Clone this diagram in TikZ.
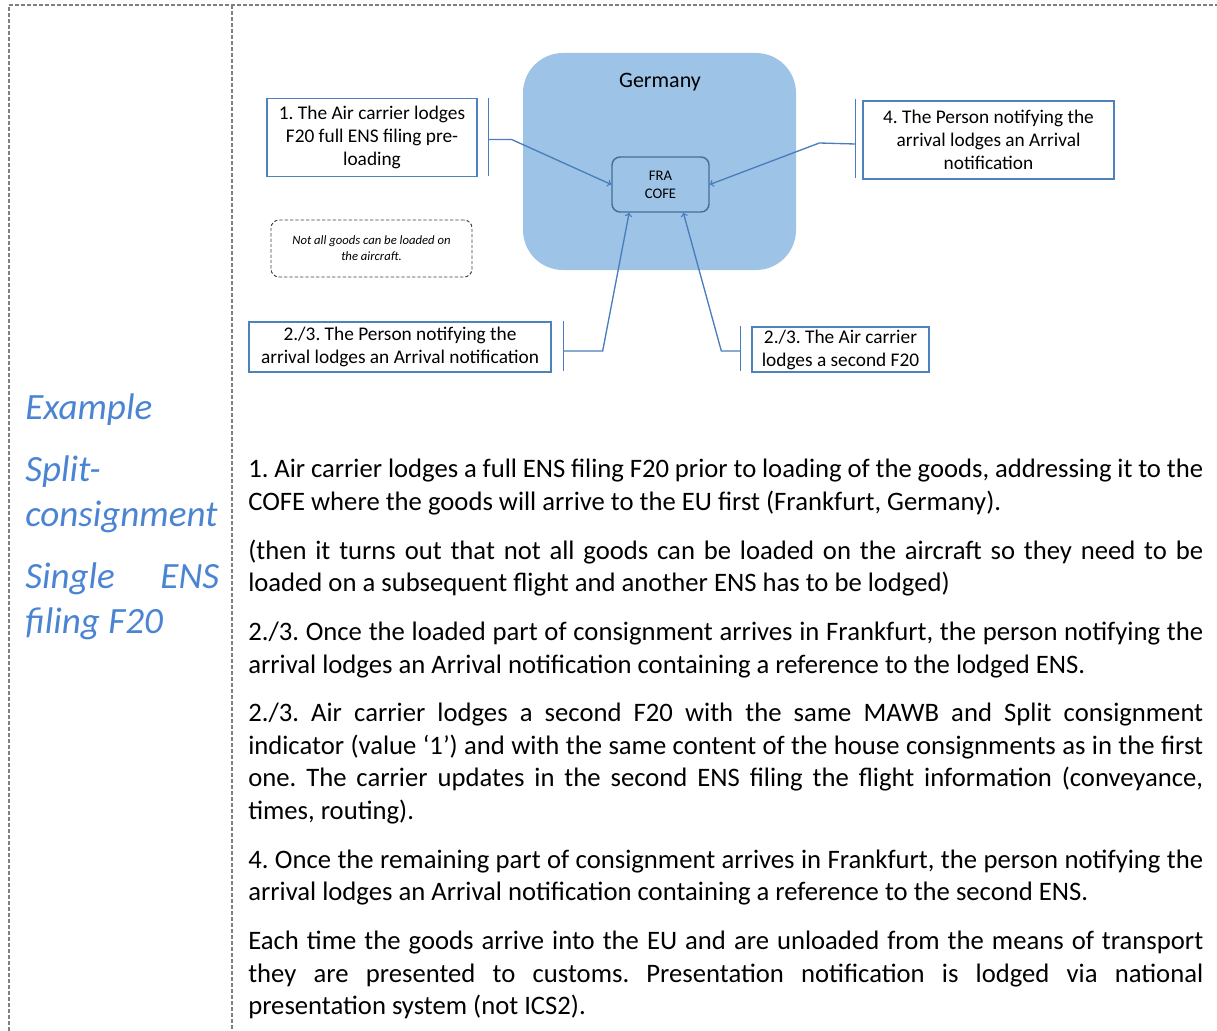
\documentclass[tikz,border=0pt]{standalone}
\usepackage{fontspec}
\setmainfont{Carlito}
\usepackage{tikz}
\usetikzlibrary{positioning}

\definecolor{framegray}{RGB}{128,128,128}
\definecolor{countryfill}{RGB}{157,195,230}
\definecolor{boxblue}{RGB}{79,129,189}
\definecolor{lineblue}{RGB}{74,126,187}
\definecolor{cofeblue}{RGB}{65,113,156}
\definecolor{sideblue}{RGB}{74,132,210}

\frenchspacing

\tikzset{
  frame/.style={draw=framegray, line width=0.8pt, dash pattern=on 3pt off 1.5pt},
  country/.style={fill=countryfill, rounded corners=30pt, inner sep=0pt,
    minimum width=204.75pt, minimum height=162.75pt},
  cofebox/.style={draw=cofeblue, fill=countryfill, line width=1.1pt, rounded corners=6pt,
    align=center, inner sep=0pt, minimum width=72.75pt, minimum height=41.25pt,
    font=\fontsize{11}{13.5}\selectfont},
  callbox/.style={draw=boxblue, line width=1pt, fill=white, align=center, inner sep=0pt,
    font=\fontsize{14.5}{17.25}\selectfont},
  notebox/.style={draw=black!75, line width=0.7pt, dash pattern=on 2.5pt off 1.5pt,
    rounded corners=6pt, align=center, inner sep=0pt,
    minimum width=150.75pt, minimum height=42.75pt,
    font=\fontsize{9.5}{12}\selectfont\itshape},
  bracket/.style={draw=lineblue, line width=1.2pt},
  leader/.style={draw=lineblue, line width=1pt, ->},
}

\begin{document}
\begin{tikzpicture}[x=0.75pt, y=-0.75pt]
\useasboundingbox (0,0) rectangle (1217,1031);

% table frame
\draw[frame] (9,1031) -- (9,5) -- (1217,5);
\draw[frame] (232,5) -- (232,1031);

% left column
\node (side) [anchor=north west, inner sep=0pt, text width=145.5pt, align=justify,
  text=sideblue, font=\fontsize{27.8}{33.75}\selectfont\itshape] at (25,393)
  {\setlength{\parskip}{12.75pt}\hyphenpenalty=10000
   Example\par
   Split-\newline consignment\par
   Single ENS\linebreak filing F20};

% diagram
\node (de) [country] at (659.5,161.5) {};
\node (delabel) [font=\fontsize{16.5}{19}\selectfont] at (660,82) {Germany};
\node (cofe) [cofebox] at (660.5,184.5) {FRA\\COFE};

\node (b1) [callbox, minimum width=157.5pt, minimum height=58.5pt] at (372,137.5)
  {1. The Air carrier lodges\\F20 full ENS filing pre-\\loading};
\node (b4) [callbox, minimum width=188.25pt, minimum height=58.5pt] at (988.5,140)
  {4. The Person notifying the\\arrival lodges an Arrival\\notification};
\node (p23) [callbox, minimum width=226.5pt, minimum height=37.5pt] at (400,347)
  {2./3. The Person notifying the\\arrival lodges an Arrival notification};
\node (a23) [callbox, minimum width=132.75pt, minimum height=33.75pt] at (840.5,349.5)
  {2./3. The Air carrier\\lodges a second F20};
\node (note) [notebox] at (371.5,248.5)
  {Not all goods can be loaded on\\the aircraft.};

% accent bars
\draw[bracket] (b1.north east) ++(11,0) -- ++(0,78);
\draw[bracket] (b4.north west) ++(-7,-1) -- ++(0,79);
\draw[bracket] (p23.north east) ++(12,0) -- ++(0,50);
\draw[bracket] (a23.north west) ++(-11,0) -- ++(0,45);

% leaders
\draw[leader] (b1.east) ++(11,2) -- ++(23,0) -- (cofe.west);
\draw[leader] (b4.west) ++(-7,4) -- ++(-36,-1) -- (cofe.east);
\draw[leader] (p23.east) ++(12,4) -- ++(39,0) -- (cofe.222);
\draw[leader] (a23.west) ++(-11,1.5) -- ++(-19,0) -- (cofe.309);

% body text
\node (body) [anchor=north west, inner sep=0pt, text width=716.25pt, align=justify,
  font=\fontsize{20}{24.45}\selectfont] at (248,459)
  {\setlength{\parskip}{12.1pt}\hyphenpenalty=10000\emergencystretch=3em
   \spaceskip=0.226em plus 0.3em minus 0.07em
   1. Air carrier lodges a full ENS filing F20 prior to loading of the goods, addressing it to the\linebreak
   COFE where the goods will arrive to the EU first (Frankfurt, Germany).\par
   (then it turns out that not all goods can be loaded on the aircraft so they need to be\linebreak
   loaded on a subsequent flight and another ENS has to be lodged)\par
   2./3. Once the loaded part of consignment arrives in Frankfurt, the person notifying the\linebreak
   arrival lodges an Arrival notification containing a reference to the lodged ENS.\par
   2./3. Air carrier lodges a second F20 with the same MAWB and Split consignment\linebreak
   indicator (value ‘1’) and with the same content of the house consignments as in the first\linebreak
   one. The carrier updates in the second ENS filing the flight information (conveyance,\linebreak
   times, routing).\par
   4. Once the remaining part of consignment arrives in Frankfurt, the person notifying the\linebreak
   arrival lodges an Arrival notification containing a reference to the second ENS.\par
   Each time the goods arrive into the EU and are unloaded from the means of transport\linebreak
   they are presented to customs. Presentation notification is lodged via national\linebreak
   presentation system (not ICS2).};
\end{tikzpicture}
\end{document}
